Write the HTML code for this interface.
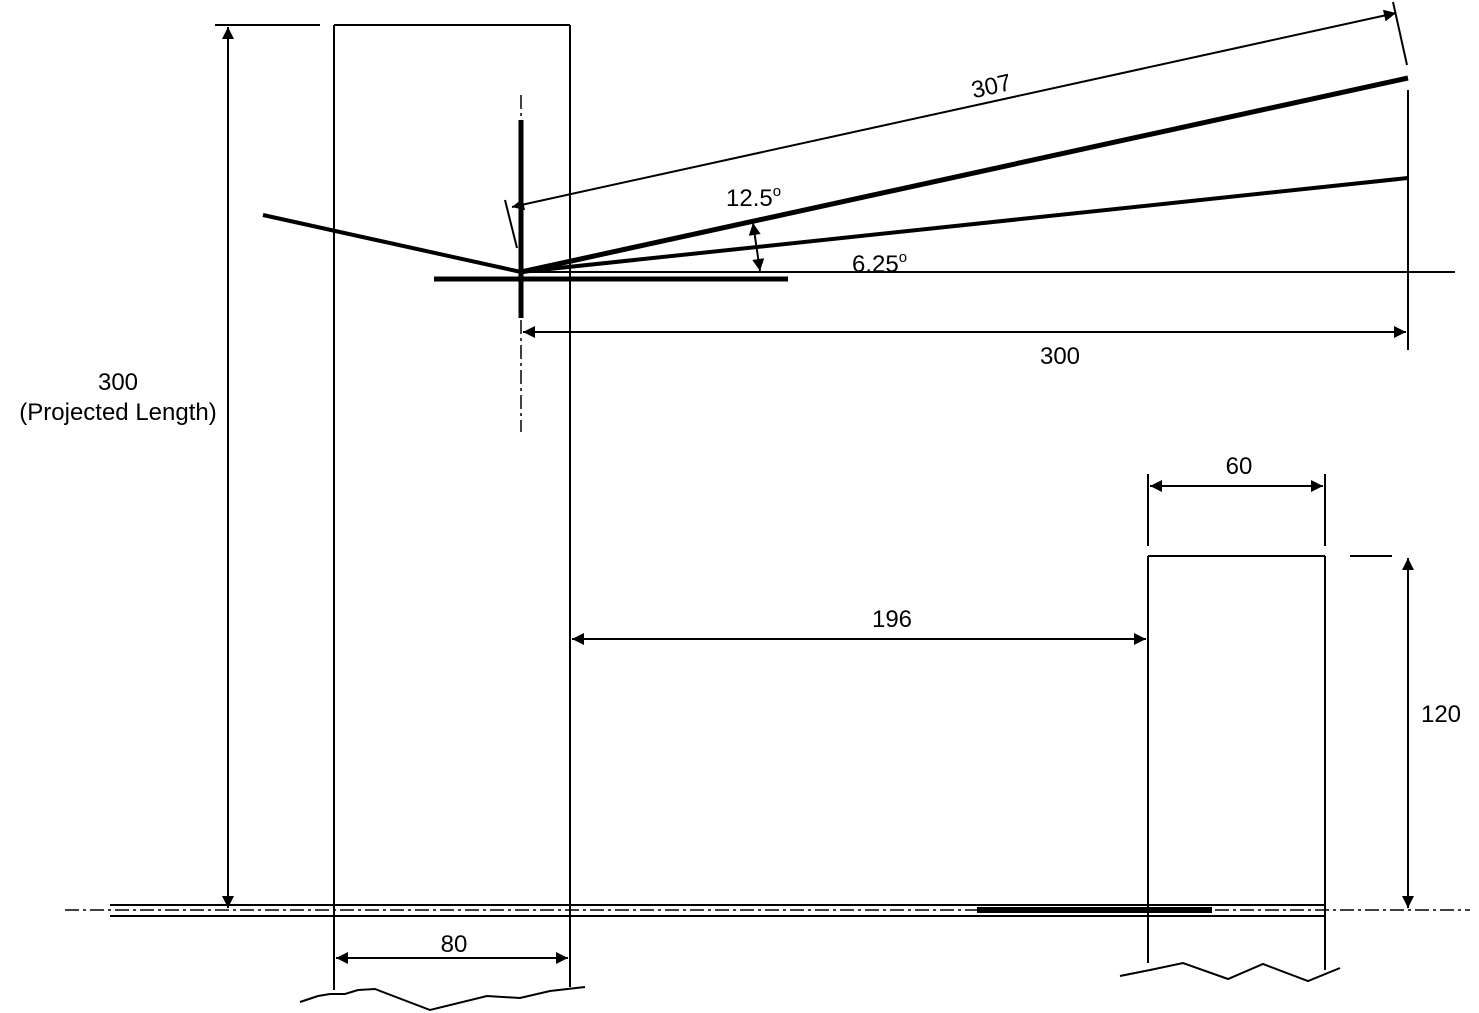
<!DOCTYPE html>
<html><head><meta charset="utf-8"><style>html,body{margin:0;padding:0;background:#fff}svg{display:block}text{font-family:"Liberation Sans",Arial,sans-serif;font-size:24px;fill:#000}</style></head><body>
<svg width="1479" height="1013" viewBox="0 0 1479 1013" xmlns="http://www.w3.org/2000/svg">
<defs><marker id="a" viewBox="0 0 10 10" refX="10" refY="5" markerWidth="16" markerHeight="12" markerUnits="userSpaceOnUse" orient="auto-start-reverse"><path d="M0,0L10,5L0,10z"/></marker></defs>
<g stroke="#000" fill="none" stroke-width="2">
<line x1="334" y1="25" x2="570" y2="25"/>
<line x1="334" y1="25" x2="334" y2="990"/>
<line x1="570" y1="25" x2="570" y2="987"/>
<line x1="215" y1="25" x2="320" y2="25"/>
<line x1="228" y1="27" x2="228" y2="908" marker-start="url(#a)" marker-end="url(#a)"/>
<line x1="110" y1="905" x2="1325" y2="905"/>
<line x1="110" y1="916" x2="1325" y2="916"/>
<line x1="65" y1="910" x2="1470" y2="910" stroke-width="1.5" stroke-dasharray="14,4,3,4"/>
<line x1="977" y1="910" x2="1212" y2="910" stroke-width="6"/>
<line x1="1148" y1="556" x2="1325" y2="556"/>
<line x1="1148" y1="556" x2="1148" y2="963"/>
<line x1="1325" y1="556" x2="1325" y2="970"/>
<polyline points="300,1002 318,996 330,994 345,994 358,990 375,989 430,1010 487,996 520,998 550,991 585,987"/>
<polyline points="1120,976 1150,970 1183,963 1228,979 1263,964 1308,981 1340,968"/>
<line x1="336" y1="958" x2="568" y2="958" marker-start="url(#a)" marker-end="url(#a)"/>
<line x1="1148" y1="474" x2="1148" y2="546"/>
<line x1="1325" y1="474" x2="1325" y2="546"/>
<line x1="1150" y1="486" x2="1323" y2="486" marker-start="url(#a)" marker-end="url(#a)"/>
<line x1="1350" y1="556" x2="1392" y2="556"/>
<line x1="1408" y1="558" x2="1408" y2="908" marker-start="url(#a)" marker-end="url(#a)"/>
<line x1="572" y1="639" x2="1146" y2="639" marker-start="url(#a)" marker-end="url(#a)"/>
<line x1="521" y1="95" x2="521" y2="432" stroke-width="1.5" stroke-dasharray="14,4,3,4"/>
<line x1="521" y1="120" x2="521" y2="318" stroke-width="5"/>
<line x1="434" y1="279" x2="788" y2="279" stroke-width="5"/>
<line x1="521" y1="272" x2="1455" y2="272"/>
<line x1="263" y1="215" x2="521" y2="272" stroke-width="4"/>
<line x1="521" y1="272" x2="1408" y2="78" stroke-width="5"/>
<line x1="521" y1="272" x2="1408" y2="178" stroke-width="4"/>
<line x1="1408" y1="90" x2="1408" y2="350"/>
<line x1="523" y1="332" x2="1406" y2="332" marker-start="url(#a)" marker-end="url(#a)"/>
<line x1="505" y1="200" x2="517" y2="248"/>
<line x1="1393" y1="2" x2="1407" y2="65"/>
<line x1="512" y1="207" x2="1396" y2="13" marker-start="url(#a)" marker-end="url(#a)"/>
<line x1="753" y1="223" x2="760" y2="271" marker-start="url(#a)" marker-end="url(#a)"/>
</g>
<text x="118" y="390" text-anchor="middle">300</text>
<text x="118" y="420" text-anchor="middle">(Projected Length)</text>
<text x="454" y="952" text-anchor="middle">80</text>
<text x="1239" y="474" text-anchor="middle">60</text>
<text x="1441" y="722" text-anchor="middle">120</text>
<text x="892" y="627" text-anchor="middle">196</text>
<text x="1060" y="364" text-anchor="middle">300</text>
<text x="0" y="0" text-anchor="middle" transform="translate(993,94) rotate(-12.5)">307</text>
<text x="726" y="206">12.5<tspan font-size="15" dy="-10">o</tspan></text>
<text x="852" y="272">6.25<tspan font-size="15" dy="-10">o</tspan></text>
</svg>
</body></html>
